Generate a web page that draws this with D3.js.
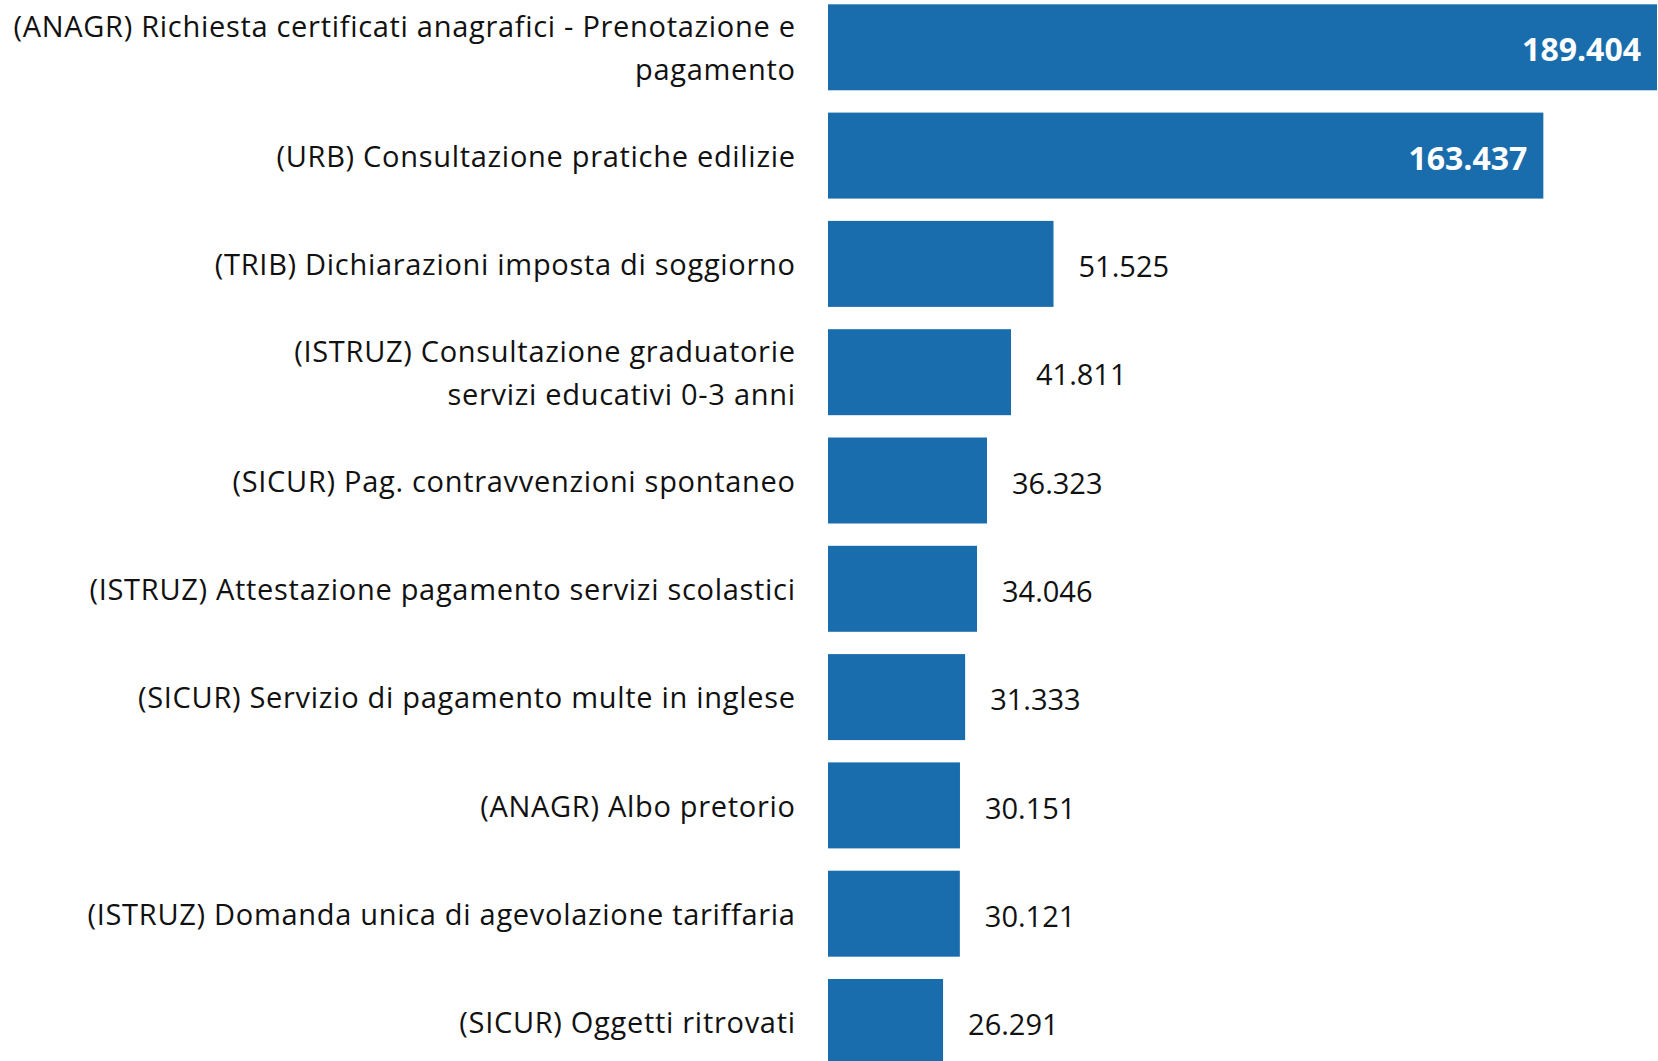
<!DOCTYPE html>
<html><head><meta charset="utf-8">
<script src="https://cdn.jsdelivr.net/npm/d3@7"></script>
<style>
html,body{margin:0;padding:0;background:#fff;}
svg{display:block;}
</style></head>
<body>
<svg id="chart" width="1658" height="1061"></svg>
<script>
const categories = [
  "(ANAGR) Richiesta certificati anagrafici - Prenotazione e\npagamento",
  "(URB) Consultazione pratiche edilizie",
  "(TRIB) Dichiarazioni imposta di soggiorno",
  "(ISTRUZ) Consultazione graduatorie\nservizi educativi 0-3 anni",
  "(SICUR) Pag. contravvenzioni spontaneo",
  "(ISTRUZ) Attestazione pagamento servizi scolastici",
  "(SICUR) Servizio di pagamento multe in inglese",
  "(ANAGR) Albo pretorio",
  "(ISTRUZ) Domanda unica di agevolazione tariffaria",
  "(SICUR) Oggetti ritrovati"
];
const values = [189404, 163437, 51525, 41811, 36323, 34046, 31333, 30151, 30121, 26291];
const valueLabels = ["189.404","163.437","51.525","41.811","36.323","34.046","31.333","30.151","30.121","26.291"];

const svg = d3.select("#chart");
const FONT = "'Open Sans', 'Noto Sans', sans-serif";
const x = d3.scaleLinear().domain([0, d3.max(values)]).range([828, 1657]);
const y = d3.scaleBand().domain(d3.range(categories.length))
  .range([4.3, 4.3 + 108.3 * (categories.length - 0.206)])
  .paddingInner(0.206).paddingOuter(0);

const g = svg.append("g");
g.selectAll("rect").data(values).join("rect")
  .attr("x", x(0))
  .attr("y", (d,i) => y(i))
  .attr("width", d => x(d) - x(0))
  .attr("height", y.bandwidth())
  .attr("fill", "#1a6dad");

// category labels
const lbl = g.selectAll("text.cat").data(categories).join("text")
  .attr("class","cat")
  .attr("text-anchor","end")
  .attr("font-family", FONT)
  .attr("font-size", 29)
  .attr("letter-spacing", 0.7)
  .attr("fill", "#111");
lbl.each(function(d,i){
  const lines = d.split("\n");
  const lh = 43;
  const cy = y(i) + y.bandwidth()/2 + 1;
  const t = d3.select(this);
  lines.forEach((ln,k)=>{
    t.append("tspan").attr("x", 795.7)
      .attr("y", cy + (k - (lines.length-1)/2)*lh)
      .attr("dy","0.35em").text(ln);
  });
});

// value labels
const inside = d => d > 100000;
g.selectAll("text.val").data(values).join("text")
  .attr("class","val")
  .attr("font-family", FONT)
  .attr("font-size", d => inside(d) ? 32 : 29)
  .attr("font-weight", d => inside(d) ? 700 : 400)
  .attr("fill", d => inside(d) ? "#fff" : "#111")
  .attr("text-anchor", d => inside(d) ? "end" : "start")
  .attr("x", d => inside(d) ? x(d) - 16 : x(d) + 25)
  .attr("y", (d,i) => y(i) + y.bandwidth()/2 + 3)
  .attr("dy","0.35em")
  .text((d,i) => valueLabels[i]);
</script>
</body></html>
